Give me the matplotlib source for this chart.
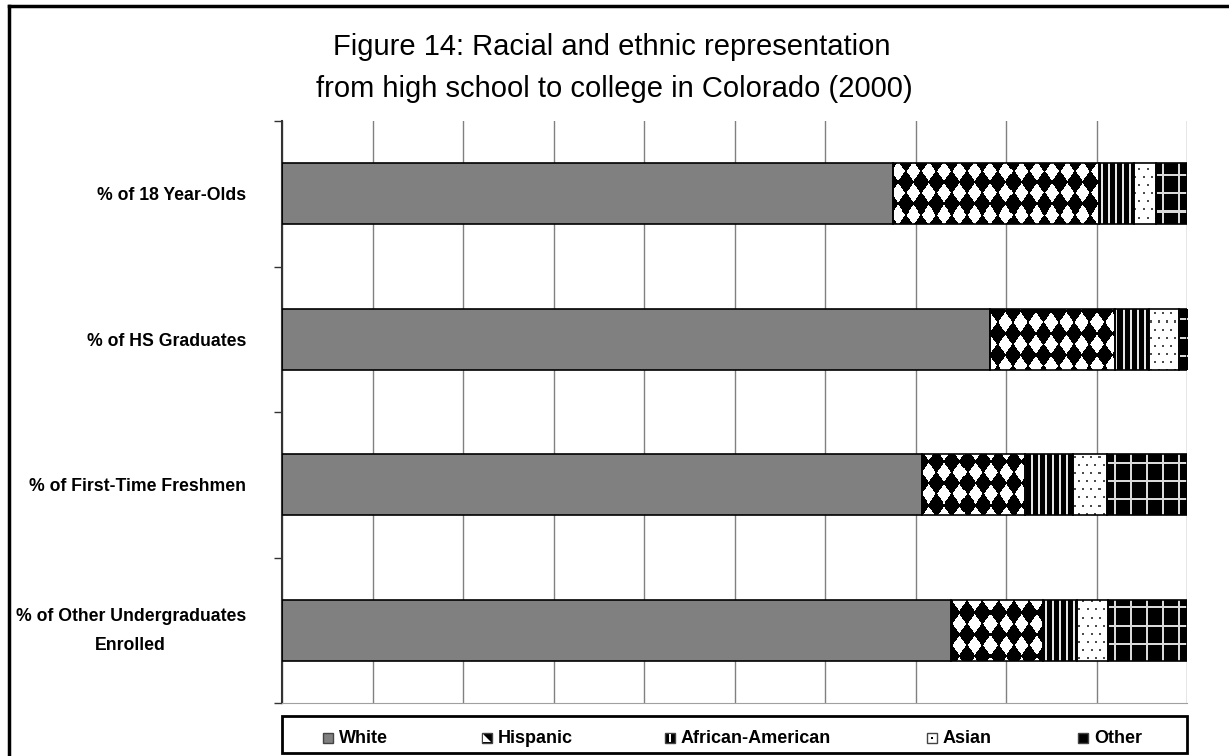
import numpy as np
import matplotlib
matplotlib.use('Agg')
import matplotlib.pyplot as plt
from matplotlib.patches import Rectangle, Polygon
from matplotlib.lines import Line2D
from matplotlib.transforms import ScaledTranslation

# Data (percent of each group)
categories = ['% of 18 Year-Olds', '% of HS Graduates', '% of First-Time Freshmen',
              '% of Other Undergraduates\nEnrolled']
groups = ['White', 'Hispanic', 'African-American', 'Asian', 'Other']
white = [67.5, 78.2, 70.7, 73.9]
hispanic = [22.8, 13.8, 11.4, 10.2]
african_american = [3.8, 3.8, 5.3, 3.7]
asian = [2.5, 3.3, 3.8, 3.5]
other = [3.4, 0.9, 8.8, 8.7]
series = [white, hispanic, african_american, asian, other]

TITLE1 = 'Figure 14: Racial and ethnic representation'
TITLE2 = 'from high school to college in Colorado (2000)'

plt.rcParams['font.family'] = ['Liberation Sans', 'DejaVu Sans']
title_size, label_size, leg_size = 21, 12.7, 13

W_PX, H_PX = 1229, 756
fig = plt.figure(figsize=(W_PX / 100, H_PX / 100), dpi=100)


def fx(px):
    return px / W_PX


def fy(py):
    return 1 - py / H_PX


# axes in pixel terms
ax_l, ax_r, ax_t, ax_b = 282, 1187, 121, 703
ax = fig.add_axes([fx(ax_l), fy(ax_b), fx(ax_r - ax_l), (ax_b - ax_t) / H_PX])

# pixel patterns over the whole axes
H, W = ax_b - ax_t, ax_r - ax_l
yy, xx = np.mgrid[0:H, 0:W].astype(float)


def pat_diamonds():
    px, py = 15.3, 21.5
    dx = np.abs(((xx + 4) % px) - px / 2) / (px / 2)
    dy = np.abs(((yy + 3) % py) - py / 2) / (py / 2)
    return np.where(dx + dy < 0.9, 1.0, 0.0)


def pat_stripes():
    return np.where((xx % 7) < 2, 0.9, 0.0)


def pat_dots():
    off = 4 * ((yy // 8) % 2)
    dots = ((yy % 8) < 2) & (((xx + off) % 8) < 2)
    return np.where(dots, 0.3, 1.0)


def pat_grid():
    lines = ((xx % 16) < 2) | ((yy % 18) < 2)
    return np.where(lines, 0.85, 0.0)


patterns = [None, pat_diamonds(), pat_stripes(), pat_dots(), pat_grid()]

y = np.arange(len(categories))
left = np.zeros(len(categories))
bar_h = 0.42
for vals, pat in zip(series, patterns):
    vals = np.array(vals) / 100.0
    fc = '#808080' if pat is None else 'white'
    bars = ax.barh(y, vals, left=left, height=bar_h, color=fc, edgecolor='none', zorder=2)
    if pat is not None:
        for b in bars:
            im = ax.imshow(pat, cmap='gray', vmin=0, vmax=1, extent=(0, 1, 3.5, -0.5),
                           interpolation='nearest', aspect='auto', zorder=2.5)
            im.set_clip_path(b)
    ax.barh(y, vals, left=left, height=bar_h, facecolor='none', edgecolor='black',
            linewidth=1.2, zorder=3)
    left += vals

ax.set_xlim(0, 1)
ax.set_ylim(3.5, -0.5)

# grid
ax.set_xticks(np.arange(0, 1.01, 0.1))
ax.tick_params(axis='x', length=0, labelbottom=False)
ax.xaxis.grid(True, color='#808080', linewidth=1)
ax.set_axisbelow(True)

# category ticks at boundaries, labels at centres
ax.set_yticks(np.arange(-0.5, 3.6, 1.0))
ax.tick_params(axis='y', which='major', length=6, width=1, color='#333333', labelleft=False)
ax.set_yticks(y, minor=True)
ax.set_yticklabels(categories, minor=True, fontsize=label_size, fontweight='bold',
                   multialignment='center', linespacing=1.9)
ax.tick_params(axis='y', which='minor', length=0, pad=26)
last = ax.get_yticklabels(minor=True)[-1]
last.set_transform(last.get_transform() + ScaledTranslation(0, 0.07, fig.dpi_scale_trans))

for s in ['top', 'right']:
    ax.spines[s].set_visible(False)
ax.spines['bottom'].set_color('#a0a0a0')
ax.spines['left'].set_color('#333333')
ax.spines['left'].set_linewidth(1.5)

# titles
fig.text(fx(612), fy(47), TITLE1, ha='center', va='center', fontsize=title_size)
fig.text(fx(614), fy(89), TITLE2, ha='center', va='center', fontsize=title_size)

# figure border (left and top)
fig.add_artist(Line2D([fx(9), fx(9)], [0, fy(6)], transform=fig.transFigure,
                      color='black', linewidth=2.5))
fig.add_artist(Line2D([fx(9), 1], [fy(6), fy(6)], transform=fig.transFigure,
                      color='black', linewidth=2.5))

# legend box
leg_top, leg_bot = 716, 753
fig.add_artist(Rectangle((fx(282), fy(leg_bot)), fx(1187) - fx(282), fy(leg_top) - fy(leg_bot),
                         transform=fig.transFigure, facecolor='white', edgecolor='black',
                         linewidth=2))
leg_x = [323, 482, 665, 927, 1078]
leg_fc = ['#808080', 'black', 'black', 'white', 'black']
base = 743
for gx, name, c in zip(leg_x, groups, leg_fc):
    fig.add_artist(Rectangle((fx(gx), fy(base)), fx(10), fy(base - 10) - fy(base),
                             transform=fig.transFigure, facecolor=c, edgecolor='#444444',
                             linewidth=1))
    if name == 'Hispanic':
        fig.add_artist(Polygon([(fx(gx + 1), fy(base - 1)), (fx(gx + 1), fy(base - 9)),
                                (fx(gx + 9), fy(base - 1))],
                               closed=True, transform=fig.transFigure, facecolor='white',
                               edgecolor='none'))
    if name == 'African-American':
        fig.add_artist(Rectangle((fx(gx + 4), fy(base - 1)), fx(2), fy(base - 9) - fy(base - 1),
                                 transform=fig.transFigure, facecolor='white', edgecolor='none'))
    if name == 'Asian':
        fig.add_artist(Rectangle((fx(gx + 4), fy(base - 4)), fx(2), fy(base - 6) - fy(base - 4),
                                 transform=fig.transFigure, facecolor='black', edgecolor='none'))
    fig.text(fx(gx + 16), fy(base), name, ha='left', va='baseline',
             fontsize=leg_size, fontweight='bold')

fig.savefig('out.png', dpi=100)
